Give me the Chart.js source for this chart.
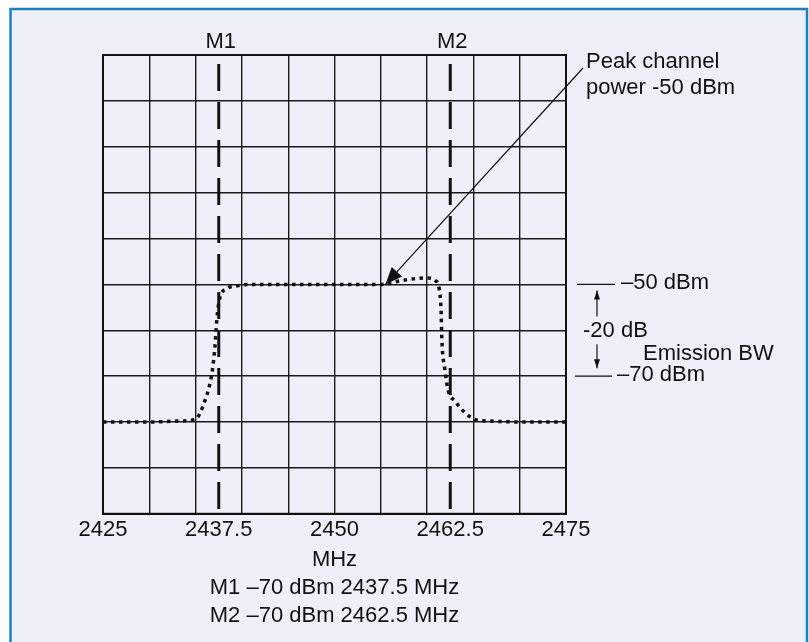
<!DOCTYPE html>
<html>
<head>
<meta charset="utf-8">
<script src="https://cdn.jsdelivr.net/npm/chart.js@4.4.1/dist/chart.umd.min.js"></script>
<style>
  html, body { margin: 0; padding: 0; background: #ffffff; }
  #wrap { width: 809px; height: 642px; }
</style>
</head>
<body>
<div id="wrap"><canvas id="spectrumChart" width="809" height="642"></canvas></div>
<script>
// Spectrum trace (MHz, dBm)
const freqMHz = [2425, 2430, 2433, 2434.9, 2436.0, 2436.8, 2437.1, 2437.3, 2437.6, 2438.4, 2439.5, 2441,
                 2445, 2450, 2455.2, 2457.1, 2458.5, 2460.0, 2460.9, 2461.3, 2461.5, 2461.6, 2461.9,
                 2462.3, 2463.0, 2463.9, 2465.4, 2466.8, 2470, 2475];
const powerDbm = [-80, -80, -79.8, -79.5, -75.4, -68.9, -63.3, -57.5, -53.1, -50.9, -50.3, -50,
                  -50, -50, -50, -49.2, -48.8, -48.6, -49.2, -50.9, -55.3, -62.4, -68.3,
                  -73.3, -75.4, -77.6, -79.6, -79.8, -80, -80];

// Markers
const markerNames = ['M1', 'M2'];
const markerFreq = [2437.5, 2462.5];

// Axis
const tickLabels = [2425, 2437.5, 2450, 2462.5, 2475];
const xMin = 2425, xMax = 2475, xGridStep = 5;
const yMin = -100, yMax = 0;

// Notes
const peakFreq = 2455.5;
const peakLevel = -50;
const refLevels = [-50, -70];
const refTexts = ['\u201350 dBm', '\u201370 dBm'];
const titleLines = ['MHz', 'M1 \u201370 dBm 2437.5 MHz', 'M2 \u201370 dBm 2462.5 MHz'];

const FONT = "'Liberation Sans', Arial, Helvetica, sans-serif";
const INK = '#111111';

const traceData = freqMHz.map((f, i) => ({ x: f, y: powerDbm[i] }));

const markerSets = markerFreq.map((f, i) => ({
    label: markerNames[i],
    data: [{ x: f, y: yMax }, { x: f, y: yMin }],
    borderColor: INK,
    borderWidth: 3,
    borderDash: [27, 11],
    borderDashOffset: 29,
    pointRadius: 0,
    fill: false
}));

function arrow(ctx, x1, y1, x2, y2, len, half) {
    ctx.beginPath();
    ctx.moveTo(x1, y1);
    ctx.lineTo(x2, y2);
    ctx.stroke();
    const a = Math.atan2(y2 - y1, x2 - x1);
    ctx.beginPath();
    ctx.moveTo(x2, y2);
    ctx.lineTo(x2 - len * Math.cos(a) + half * Math.sin(a), y2 - len * Math.sin(a) - half * Math.cos(a));
    ctx.lineTo(x2 - len * Math.cos(a) - half * Math.sin(a), y2 - len * Math.sin(a) + half * Math.cos(a));
    ctx.closePath();
    ctx.fill();
}

const framePlugin = {
    id: 'frame',
    beforeDraw(chart) {
        const ctx = chart.ctx;
        ctx.save();
        ctx.fillStyle = '#ffffff';
        ctx.fillRect(0, 0, chart.width, chart.height);
        ctx.fillStyle = '#edf0f8';
        ctx.fillRect(10, 8, 798, chart.height - 8);
        ctx.strokeStyle = '#1c80c6';
        ctx.lineWidth = 2.5;
        ctx.beginPath();
        ctx.moveTo(10.5, chart.height);
        ctx.lineTo(10.5, 9);
        ctx.lineTo(807, 9);
        ctx.lineTo(807, chart.height);
        ctx.stroke();
        ctx.restore();
    },
    afterDraw(chart) {
        const ctx = chart.ctx;
        const area = chart.chartArea;
        const xs = chart.scales.x, ys = chart.scales.y;
        ctx.save();
        // outer box
        ctx.strokeStyle = INK;
        ctx.lineWidth = 2;
        ctx.strokeRect(area.left, area.top, area.right - area.left, area.bottom - area.top);

        ctx.fillStyle = INK;
        ctx.strokeStyle = INK;
        ctx.font = '22px ' + FONT;
        ctx.textBaseline = 'middle';

        // marker names
        ctx.textAlign = 'center';
        markerNames.forEach((n, i) => {
            ctx.fillText(n, xs.getPixelForValue(markerFreq[i]) + 2, area.top - 13);
        });

        // peak note
        ctx.textAlign = 'left';
        const nx = area.right + 20;
        ctx.fillText('Peak channel', nx, area.top + 7);
        ctx.fillText('power -50 dBm', nx, area.top + 33);
        ctx.lineWidth = 1.2;
        arrow(ctx, nx - 3, area.top + 13, xs.getPixelForValue(peakFreq), ys.getPixelForValue(peakLevel), 17, 7);

        // reference levels
        const y50 = ys.getPixelForValue(refLevels[0]);
        const y70 = ys.getPixelForValue(refLevels[1]);
        ctx.lineWidth = 1.2;
        ctx.beginPath();
        ctx.moveTo(area.right + 11, y50); ctx.lineTo(area.right + 49, y50);
        ctx.moveTo(area.right + 9, y70); ctx.lineTo(area.right + 46, y70);
        ctx.stroke();
        ctx.fillText(refTexts[0], area.right + 55, y50 - 1);
        ctx.fillText(refTexts[1], area.right + 51, y70 - 1);

        const ax = area.right + 31;
        ctx.lineWidth = 1.2;
        arrow(ctx, ax, y50 + 32, ax, y50 + 6, 9, 3);
        arrow(ctx, ax, y70 - 32, ax, y70 - 8, 9, 3);
        ctx.fillText('-20 dB', area.right + 17, (y50 + y70) / 2 + 1);
        ctx.fillText('Emission BW', area.right + 77, (y50 + y70) / 2 + 24);
        ctx.restore();
    }
};

const ctx = document.getElementById('spectrumChart').getContext('2d');
const spectrumChart = new Chart(ctx, {
    type: 'line',
    data: {
        datasets: [{
            label: 'Spectrum',
            data: traceData,
            borderColor: INK,
            borderWidth: 3.5,
            borderDash: [3.5, 4.5],
            borderCapStyle: 'butt',
            cubicInterpolationMode: 'monotone',
            pointRadius: 0,
            fill: false
        }].concat(markerSets)
    },
    options: {
        responsive: false,
        animation: false,
        layout: { padding: { left: 103, top: 55, right: 243, bottom: 12 } },
        plugins: {
            legend: { display: false },
            tooltip: { enabled: false }
        },
        scales: {
            x: {
                type: 'linear',
                min: xMin,
                max: xMax,
                ticks: {
                    stepSize: 2.5,
                    autoSkip: false,
                    maxRotation: 0,
                    padding: 3,
                    color: INK,
                    font: { family: FONT, size: 22 },
                    callback: v => tickLabels.includes(v) ? String(v) : ''
                },
                grid: {
                    drawTicks: false,
                    lineWidth: 1.4,
                    color: c => (c.tick && Math.abs(((c.tick.value - xMin) % xGridStep)) < 1e-6) ? '#1a1a1a' : 'rgba(0,0,0,0)'
                },
                border: { display: true, color: INK, width: 2 },
                title: {
                    display: true,
                    text: titleLines,
                    color: INK,
                    font: { family: FONT, size: 22, lineHeight: 1.27 },
                    padding: { top: 0, bottom: 0 }
                }
            },
            y: {
                min: yMin,
                max: yMax,
                ticks: { display: false, stepSize: 10 },
                grid: { drawTicks: false, lineWidth: 1.4, color: '#1a1a1a' },
                border: { display: true, color: INK, width: 2 }
            }
        }
    },
    plugins: [framePlugin]
});
</script>
</body>
</html>
